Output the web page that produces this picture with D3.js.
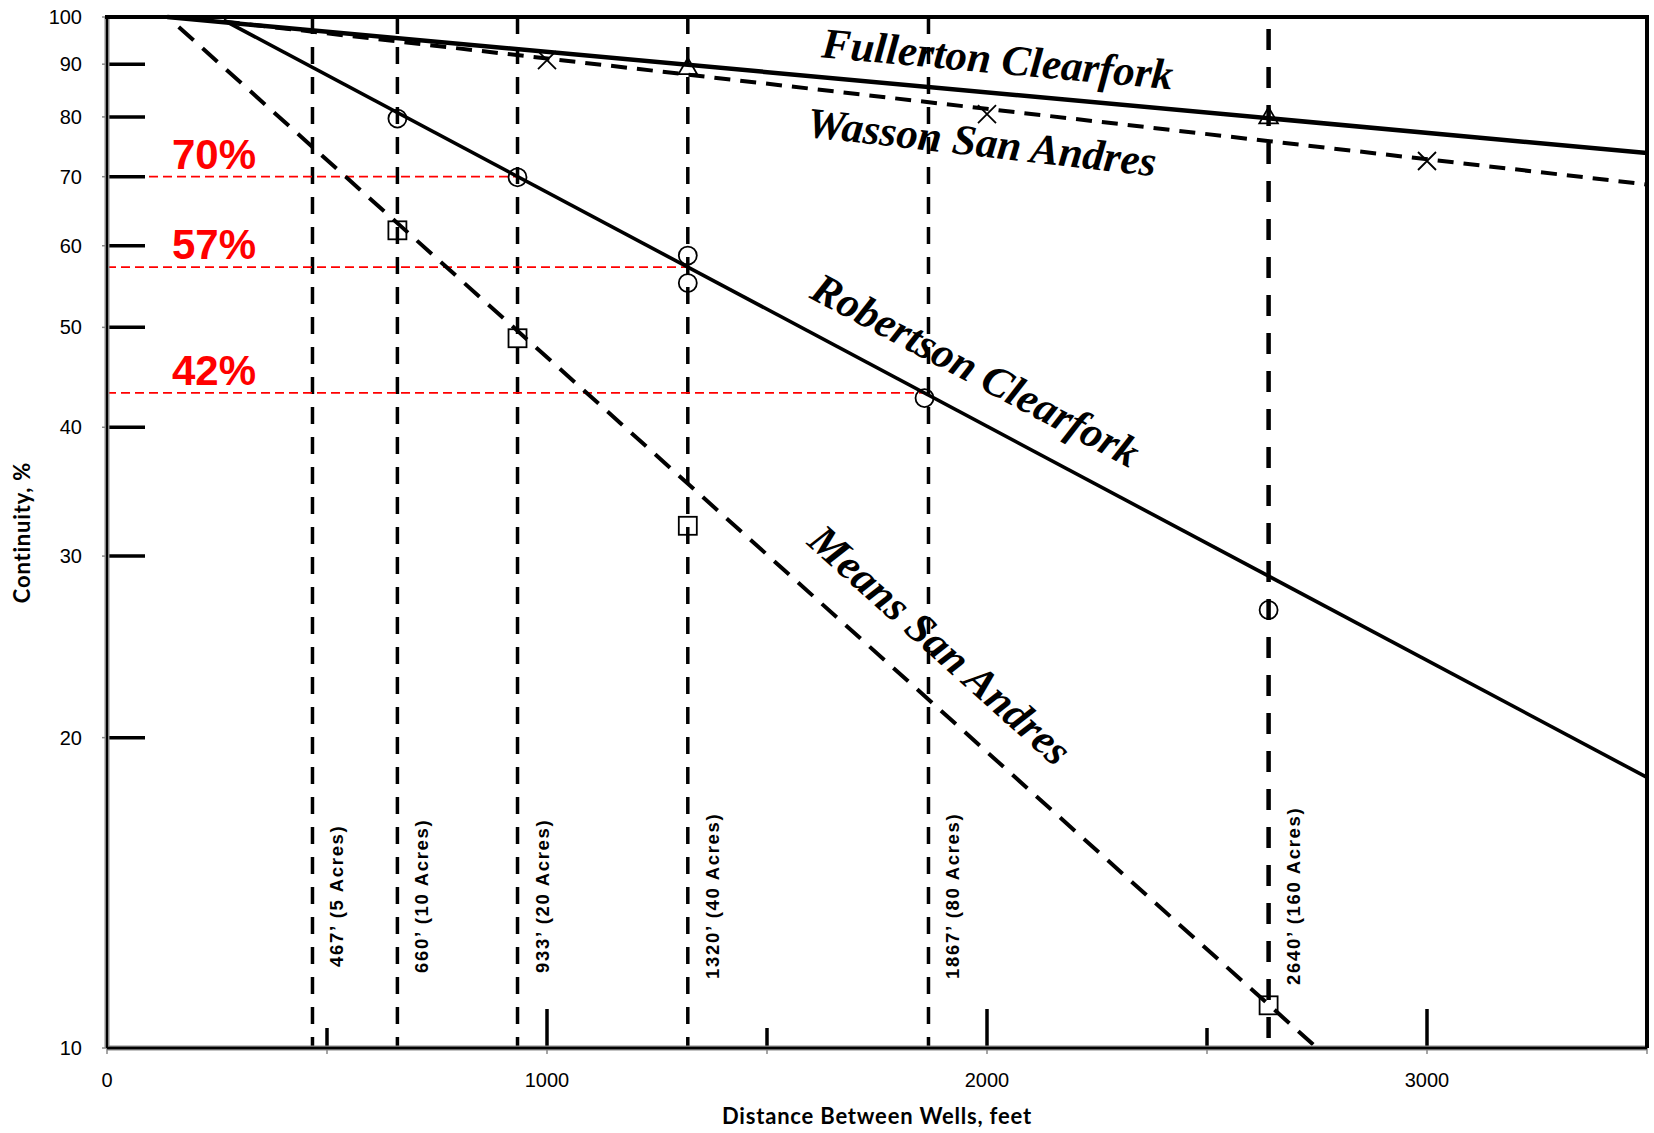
<!DOCTYPE html>
<html lang="en">
<head>
    <meta charset="UTF-8">
    <title>Continuity vs Distance Between Wells</title>
    <script src="https://d3js.org/d3.v7.min.js"></script>
    <style>
        body { margin: 0; background: #fff; }
        svg { display: block; }
    </style>
</head>
<body>
<script>
    const width = 1654;
    const height = 1133;

    // axis ticks
    const yTicks = [10, 20, 30, 40, 50, 60, 70, 80, 90, 100];
    const xTickLabels = [0, 1000, 2000, 3000];
    const xInnerTicks = [500, 1000, 1500, 2000, 2500, 3000];

    // well spacing reference lines
    const spacingFeet = [467, 660, 933, 1320, 1867, 2640];
    const spacingLabels = ["467’ (5 Acres)", "660’ (10 Acres)", "933’ (20 Acres)",
                           "1320’ (40 Acres)", "1867’ (80 Acres)", "2640’ (160 Acres)"];

    // red continuity read-offs
    const readValues = [70, 57.2, 43.2];
    const readEndFeet = [933, 1320, 1858];
    const readLabels = ["70%", "57%", "42%"];

    // fitted trend lines [feet, continuity %]
    const fullertonLine = [[137, 100], [3500, 73.8]];
    const wassonLine    = [[265, 99.0], [3500, 68.8]];
    const robertsonLine = [[265, 99.3], [3500, 18.3]];
    const meansLine     = [[163, 97.8], [2750, 10]];

    // measured points
    const fullertonPts = [[1320, 89.1], [2640, 79.8]];
    const wassonPts    = [[1000, 90.8], [2000, 80.5], [3000, 72.5]];
    const robertsonPts = [[660, 79.7], [933, 69.9], [1320, 58.7], [1320, 55.2], [1858, 42.7], [2640, 26.6]];
    const meansPts     = [[660, 62.1], [933, 48.8], [1320, 32.1], [2640, 11.0]];

    const seriesNames = ["Fullerton Clearfork", "Wasson San Andres", "Robertson Clearfork", "Means San Andres"];

    const margin = {left: 107, right: 7, top: 17, bottom: 85};

    const svg = d3.select("body").append("svg")
            .attr("width", width).attr("height", height);

    const x = d3.scaleLinear().domain([0, 3500])
            .range([margin.left, width - margin.right]);
    const y = d3.scaleLog().domain([10, 100])
            .range([height - margin.bottom, margin.top]);

    const line = d3.line().x(d => x(d[0])).y(d => y(d[1]));

    // vertical spacing lines
    const vg = svg.append("g").attr("class", "spacing");
    vg.selectAll("line")
            .data(spacingFeet)
            .enter().append("line")
            .attr("x1", d => x(d)).attr("x2", d => x(d))
            .attr("y1", y(100)).attr("y2", y(10))
            .style("stroke", "black")
            .style("stroke-width", (d, i) => i === 5 ? 4.5 : 3.5)
            .style("stroke-dasharray", (d, i) => i === 5 ? "21,17" : "17,13")
            .style("stroke-dashoffset", (d, i) => i === 5 ? -12 : 0);

    vg.selectAll("text")
            .data(spacingFeet)
            .enter().append("text")
            .attr("transform", d => `translate(${x(d) + 31},${y(14.05)}) rotate(-90)`)
            .attr("text-anchor", "middle")
            .style("font-family", "'Liberation Sans', Arial, sans-serif")
            .style("font-weight", "bold")
            .style("font-size", "18.5px")
            .style("letter-spacing", "1.7px")
            .text((d, i) => spacingLabels[i]);

    // red read-off lines
    const rg = svg.append("g").attr("class", "readoff");
    rg.selectAll("line")
            .data(readValues)
            .enter().append("line")
            .attr("x1", x(0)).attr("x2", (d, i) => x(readEndFeet[i]))
            .attr("y1", d => y(d)).attr("y2", d => y(d))
            .style("stroke", "red")
            .style("stroke-width", 1.8)
            .style("stroke-dasharray", "9,5");

    rg.selectAll("text")
            .data(readValues)
            .enter().append("text")
            .attr("x", x(0) + 65)
            .attr("y", d => y(d) - 8)
            .style("fill", "red")
            .style("font-family", "'Liberation Sans', Arial, sans-serif")
            .style("font-weight", "bold")
            .style("font-size", "42px")
            .text((d, i) => readLabels[i]);

    // trend lines
    const lines = [fullertonLine, wassonLine, robertsonLine, meansLine];
    const lineStyle = [
        {w: 4.5, dash: null},
        {w: 4, dash: "16,10"},
        {w: 3.6, dash: null},
        {w: 4, dash: "20,12"}
    ];
    svg.append("g").attr("class", "trends")
            .selectAll("path")
            .data(lines)
            .enter().append("path")
            .attr("d", line)
            .style("fill", "none")
            .style("stroke", "black")
            .style("stroke-width", (d, i) => lineStyle[i].w)
            .style("stroke-dasharray", (d, i) => lineStyle[i].dash);

    // markers
    const mg = svg.append("g").attr("class", "markers")
            .style("fill", "none").style("stroke", "black").style("stroke-width", 1.8);

    mg.selectAll("circle")
            .data(robertsonPts)
            .enter().append("circle")
            .attr("cx", d => x(d[0])).attr("cy", d => y(d[1]))
            .attr("r", 9);

    mg.selectAll("rect")
            .data(meansPts)
            .enter().append("rect")
            .attr("x", d => x(d[0]) - 9).attr("y", d => y(d[1]) - 9)
            .attr("width", 18).attr("height", 18);

    const tri = d3.symbol().type(d3.symbolTriangle).size(150);
    mg.selectAll("path.tri")
            .data(fullertonPts)
            .enter().append("path")
            .attr("class", "tri")
            .attr("transform", d => `translate(${x(d[0])},${y(d[1])})`)
            .attr("d", tri);

    mg.selectAll("path.cross")
            .data(wassonPts)
            .enter().append("path")
            .attr("class", "cross")
            .attr("d", d => {
                const cx = x(d[0]), cy = y(d[1]), s = 9;
                return `M${cx - s},${cy - s}L${cx + s},${cy + s}M${cx - s},${cy + s}L${cx + s},${cy - s}`;
            });

    // series names along the trend lines
    const namePlace = [
        {at: 2017, off: -19.7},
        {at: 1997, off: 48},
        {at: 1927, off: -30},
        {at: 1820, off: -34}
    ];
    svg.append("g").attr("class", "names")
            .selectAll("text")
            .data(lines)
            .enter().append("text")
            .attr("transform", (d, i) => {
                const p0 = [x(d[0][0]), y(d[0][1])], p1 = [x(d[1][0]), y(d[1][1])];
                const ang = Math.atan2(p1[1] - p0[1], p1[0] - p0[0]) * 180 / Math.PI;
                const fx = namePlace[i].at;
                const t = (fx - d[0][0]) / (d[1][0] - d[0][0]);
                const v = Math.pow(10, Math.log10(d[0][1]) + t * (Math.log10(d[1][1]) - Math.log10(d[0][1])));
                return `translate(${x(fx)},${y(v)}) rotate(${ang}) translate(0,${namePlace[i].off})`;
            })
            .attr("text-anchor", "middle")
            .style("font-family", "'Liberation Serif', 'Times New Roman', serif")
            .style("font-weight", "bold")
            .style("font-style", "italic")
            .style("font-size", "43px")
            .text((d, i) => seriesNames[i]);

    // axes and frame
    const ag = svg.append("g").attr("class", "axes");

    // y ticks (inner, thick) and small outer ticks
    ag.selectAll("line.ytick")
            .data(yTicks)
            .enter().append("line")
            .attr("class", "ytick")
            .attr("x1", x(0)).attr("x2", x(0) + 38)
            .attr("y1", d => y(d)).attr("y2", d => y(d))
            .style("stroke", "black").style("stroke-width", 3.5);
    ag.selectAll("line.ytickout")
            .data(yTicks)
            .enter().append("line")
            .attr("class", "ytickout")
            .attr("x1", x(0) - 5).attr("x2", x(0))
            .attr("y1", d => y(d)).attr("y2", d => y(d))
            .style("stroke", "#888").style("stroke-width", 1.5);
    ag.selectAll("text.ylab")
            .data(yTicks)
            .enter().append("text")
            .attr("class", "ylab")
            .attr("x", x(0) - 25)
            .attr("y", d => y(d))
            .attr("dy", "0.35em")
            .attr("text-anchor", "end")
            .style("font-family", "'Liberation Sans', Arial, sans-serif")
            .style("font-size", "20px")
            .text(d => d);

    // x ticks (inner)
    ag.selectAll("line.xtick")
            .data(xInnerTicks)
            .enter().append("line")
            .attr("class", "xtick")
            .attr("x1", d => x(d)).attr("x2", d => x(d))
            .attr("y1", y(10)).attr("y2", d => y(10) - (d % 1000 === 0 ? 39 : 20))
            .style("stroke", "black").style("stroke-width", 3.5);
    ag.selectAll("line.xtickout")
            .data([0].concat(xInnerTicks, [3500]))
            .enter().append("line")
            .attr("class", "xtickout")
            .attr("x1", d => x(d)).attr("x2", d => x(d))
            .attr("y1", y(10)).attr("y2", y(10) + 6)
            .style("stroke", "#888").style("stroke-width", 1.5);
    ag.selectAll("text.xlab")
            .data(xTickLabels)
            .enter().append("text")
            .attr("class", "xlab")
            .attr("x", d => x(d))
            .attr("y", y(10) + 39)
            .attr("text-anchor", "middle")
            .style("font-family", "'Liberation Sans', Arial, sans-serif")
            .style("font-size", "20px")
            .text(d => d);

    // frame
    ag.append("line")
            .attr("x1", x(0)).attr("x2", x(0)).attr("y1", y(100)).attr("y2", y(10))
            .style("stroke", "#888").style("stroke-width", 5);
    ag.append("line")
            .attr("x1", x(0)).attr("x2", x(3500)).attr("y1", y(10)).attr("y2", y(10))
            .style("stroke", "#888").style("stroke-width", 5);
    ag.append("line")
            .attr("x1", x(0)).attr("x2", x(0)).attr("y1", y(100)).attr("y2", y(10))
            .style("stroke", "black").style("stroke-width", 2);
    ag.append("line")
            .attr("x1", x(0)).attr("x2", x(3500)).attr("y1", y(10)).attr("y2", y(10))
            .style("stroke", "black").style("stroke-width", 2.5);
    ag.append("line")
            .attr("x1", x(0) - 2).attr("x2", x(3500) + 2).attr("y1", y(100)).attr("y2", y(100))
            .style("stroke", "black").style("stroke-width", 4);
    ag.append("line")
            .attr("x1", x(3500)).attr("x2", x(3500)).attr("y1", y(100)).attr("y2", y(10))
            .style("stroke", "black").style("stroke-width", 4);

    // axis titles
    svg.append("text")
            .attr("transform", `translate(30,${(y(10) + y(100)) / 2}) rotate(-90)`)
            .attr("text-anchor", "middle")
            .style("font-family", "Lato, 'Open Sans', sans-serif")
            .style("font-weight", "bold")
            .style("font-size", "22px")
            .style("letter-spacing", "0.8px")
            .text("Continuity, %");

    svg.append("text")
            .attr("x", x(1750))
            .attr("y", y(10) + 76)
            .attr("text-anchor", "middle")
            .style("font-family", "Lato, 'Open Sans', sans-serif")
            .style("font-weight", "bold")
            .style("font-size", "22px")
            .style("letter-spacing", "0.8px")
            .text("Distance Between Wells, feet");
</script>
</body>
</html>
